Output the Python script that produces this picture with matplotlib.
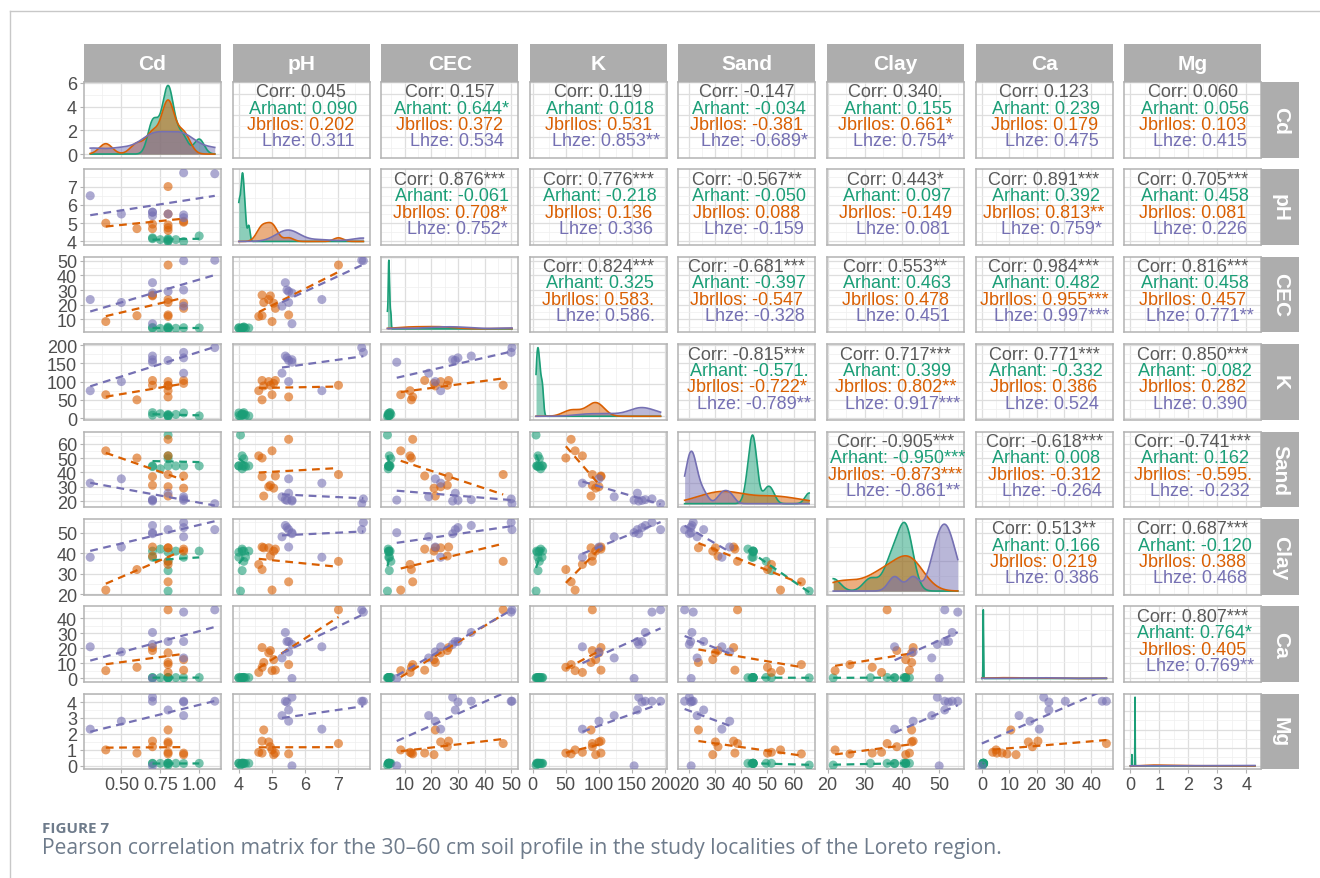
import numpy as np
import matplotlib
matplotlib.use('Agg')
import matplotlib.pyplot as plt
from matplotlib.lines import Line2D
from matplotlib.ticker import MaxNLocator

plt.rcParams['font.family'] = ['Liberation Sans', 'DejaVu Sans']

# ---------------- data ----------------
groups = ['Arhant', 'Jbrllos', 'Lhze']
colors = ['#1B9E77', '#D95F02', '#7570B3']
variables = ['Cd', 'pH', 'CEC', 'K', 'Sand', 'Clay', 'Ca', 'Mg']

Cd = [[0.7, 0.7, 0.75, 0.8, 0.8, 0.8, 0.8, 0.85, 0.9, 1.0],
      [0.4, 0.6, 0.7, 0.7, 0.8, 0.8, 0.8, 0.8, 0.8, 0.9, 0.9],
      [0.3, 0.5, 0.7, 0.7, 0.7, 0.8, 0.9, 0.9, 0.9, 1.1]]
pH = [[4.15, 4.2, 4.1, 4.05, 4.1, 4.15, 4.0, 4.1, 4.0, 4.3],
      [5.0, 4.7, 4.95, 4.7, 7.0, 5.5, 4.9, 4.75, 4.6, 5.1, 5.05],
      [6.5, 5.5, 5.4, 5.6, 5.6, 5.5, 7.75, 5.45, 5.3, 7.7]]
CEC = [[4.5, 4.0, 3.8, 3.5, 4.2, 4.8, 4.0, 3.9, 4.3, 4.1],
       [8.5, 12.5, 26, 26.5, 47, 13, 23.5, 21.5, 12, 17.5, 21],
       [23.5, 21.5, 35, 28, 7, 29, 50, 30, 19, 50.3]]
K = [[15, 8, 12, 5, 8, 10, 7, 10, 14, 6],
     [64, 50, 90, 103, 90, 58, 100, 88, 75, 103, 95],
     [75, 100, 170, 160, 153, 158, 180, 165, 123, 193]]
Sand = [[44.5, 44, 42.5, 66, 51.5, 49.5, 44.5, 44.5, 44.5, 44.5],
        [55, 50, 31, 37, 38.5, 63, 30, 23.5, 51.5, 37.5, 29],
        [32.5, 35.5, 21, 20, 20.7, 25.5, 21.5, 20.5, 23, 18.2]]
Clay = [[41, 38, 42, 21.5, 31.5, 36, 40.5, 41, 38, 41],
        [22, 32, 38.6, 43, 36, 26, 42.6, 42.6, 34.5, 42, 41],
        [38, 43, 53.5, 49.5, 50, 51.5, 55, 52.5, 48, 51.5]]
Ca = [[0.6, 0.5, 0.5, 0.4, 0.5, 0.7, 0.5, 0.6, 0.5, 0.6],
      [5.2, 7.4, 18.5, 20.5, 45.5, 9.2, 17, 10.6, 4, 5.5, 12.5],
      [21, 17.6, 30.5, 22.6, 0.0, 24.5, 44, 24.5, 13.6, 45.5]]
Mg = [[0.16, 0.15, 0.16, 0.05, 0.16, 0.16, 0.17, 0.16, 0.15, 0.16],
      [1.0, 0.8, 1.2, 1.55, 1.4, 0.75, 1.5, 2.25, 0.85, 0.8, 0.7],
      [2.3, 2.8, 4.05, 4.3, 0.0, 3.5, 4.05, 4.0, 3.15, 4.05]]

data = {'Cd': Cd, 'pH': pH, 'CEC': CEC, 'K': K, 'Sand': Sand,
        'Clay': Clay, 'Ca': Ca, 'Mg': Mg}

axis_ticks = {'Cd': [0.5, 0.75, 1.0], 'pH': [4, 5, 6, 7],
              'CEC': [10, 20, 30, 40, 50], 'K': [0, 50, 100, 150, 200],
              'Sand': [20, 30, 40, 50, 60], 'Clay': [20, 30, 40, 50],
              'Ca': [0, 10, 20, 30, 40], 'Mg': [0, 1, 2, 3, 4]}
tick_fmt = {'Cd': '{:.2f}'}

# correlation labels for upper panels, row-major order (row < col)
corr_all = ['0.045', '0.157', '0.119', '-0.147', '0.340.', '0.123', '0.060',
            '0.876***', '0.776***', '-0.567**', '0.443*', '0.891***', '0.705***',
            '0.824***', '-0.681***', '0.553**', '0.984***', '0.816***',
            '-0.815***', '0.717***', '0.771***', '0.850***',
            '-0.905***', '-0.618***', '-0.741***',
            '0.513**', '0.687***',
            '0.807***']
corr_arhant = ['0.090', '0.644*', '0.018', '-0.034', '0.155', '0.239', '0.056',
               '-0.061', '-0.218', '-0.050', '0.097', '0.392', '0.458',
               '0.325', '-0.397', '0.463', '0.482', '0.458',
               '-0.571.', '0.399', '-0.332', '-0.082',
               '-0.950***', '0.008', '0.162',
               '0.166', '-0.120',
               '0.764*']
corr_jbrllos = ['0.202', '0.372', '0.531', '-0.381', '0.661*', '0.179', '0.103',
                '0.708*', '0.136', '0.088', '-0.149', '0.813**', '0.081',
                '0.583.', '-0.547', '0.478', '0.955***', '0.457',
                '-0.722*', '0.802**', '0.386', '0.282',
                '-0.873***', '-0.312', '-0.595.',
                '0.219', '0.388',
                '0.405']
corr_lhze = ['0.311', '0.534', '0.853**', '-0.689*', '0.754*', '0.475', '0.415',
             '0.752*', '0.336', '-0.159', '0.081', '0.759*', '0.226',
             '0.586.', '-0.328', '0.451', '0.997***', '0.771**',
             '-0.789**', '0.917***', '0.524', '0.390',
             '-0.861**', '-0.264', '-0.232',
             '0.386', '0.468',
             '0.769**']

caption_title = 'FIGURE 7'
caption_text = ('Pearson correlation matrix for the 30\u201360 cm soil profile in the '
                'study localities of the Loreto region.')

# ---------------- helpers ----------------
W, H = 1320, 879
fig = plt.figure(figsize=(W / 100, H / 100), dpi=100)


def add_ax(x, y, w, h):
    return fig.add_axes([x / W, 1 - (y + h) / H, w / W, h / H])


def var_range(v):
    allv = np.concatenate([np.asarray(g, float) for g in data[v]])
    return allv.min(), allv.max()


def var_lims(v):
    lo, hi = var_range(v)
    r = hi - lo
    return lo - 0.05 * r, hi + 0.05 * r


def minors(majors, lims):
    step = majors[1] - majors[0]
    out = []
    m = majors[0] - step / 2
    while m < lims[1]:
        if lims[0] < m < lims[1]:
            out.append(m)
        m += step
    return out


def bw_nrd0(x):
    x = np.asarray(x, float)
    hi = np.std(x, ddof=1)
    q75, q25 = np.percentile(x, [75, 25])
    lo = min(hi, (q75 - q25) / 1.34)
    if lo <= 0:
        lo = hi if hi > 0 else 1.0
    return 0.9 * lo * len(x) ** (-0.2)


def kde(x, grid):
    x = np.asarray(x, float)
    bw = bw_nrd0(x)
    z = (grid[:, None] - x[None, :]) / bw
    return np.exp(-0.5 * z ** 2).sum(axis=1) / (len(x) * bw * np.sqrt(2 * np.pi))


BORDER = '#B3B3B3'
STRIP = '#ADADAD'
MAJ = '#DEDEDE'
MIN = '#EFEFEF'
TICKC = '#4D4D4D'
FS = 13

px0, pw, pxstep = 84, 137, 148.6
py0, ph, pystep = 83, 75.5, 87.4
n = len(variables)

pair_index = {}
k = 0
for i in range(n):
    for j in range(i + 1, n):
        pair_index[(i, j)] = k
        k += 1

namew = max(len(g) for g in groups)

for i, rv in enumerate(variables):
    for j, cv in enumerate(variables):
        ax = add_ax(px0 + j * pxstep, py0 + i * pystep, pw, ph)
        xl = var_lims(cv)
        ax.set_xlim(xl)
        xt = axis_ticks[cv]
        ax.set_xticks(xt)
        ax.set_xticks(minors(xt, xl), minor=True)

        if i == j:
            lo, hi = var_range(cv)
            grid = np.linspace(lo, hi, 512)
            dens = [kde(data[cv][g], grid) for g in range(3)]
            ymax = max(d.max() for d in dens)
            ax.set_ylim(-0.05 * ymax, 1.05 * ymax)
            for g in range(3):
                ax.fill_between(grid, 0, dens[g], color=colors[g], alpha=0.5,
                                lw=0, zorder=2)
                ax.plot(grid, dens[g], color=colors[g], lw=1.2, zorder=3)
            loc = MaxNLocator(nbins=4, steps=[1, 2, 2.5, 5, 10])
            yt = [t for t in loc.tick_values(0, ymax * 1.05)
                  if -0.05 * ymax <= t <= 1.05 * ymax]
            ax.set_yticks(yt)
            if len(yt) > 1:
                ax.set_yticks(minors(yt, ax.get_ylim()), minor=True)
            ylabels = ['{:g}'.format(t) for t in yt]
        else:
            yl = var_lims(rv)
            ax.set_ylim(yl)
            yt = axis_ticks[rv]
            ax.set_yticks(yt)
            ax.set_yticks(minors(yt, yl), minor=True)
            ylabels = [tick_fmt.get(rv, '{:g}').format(t) for t in yt]
            if i > j:
                for g in range(3):
                    x = np.asarray(data[cv][g], float)
                    y = np.asarray(data[rv][g], float)
                    ax.scatter(x, y, s=42, color=colors[g], alpha=0.6,
                               edgecolors='none', zorder=3)
                for g in range(3):
                    x = np.asarray(data[cv][g], float)
                    y = np.asarray(data[rv][g], float)
                    if np.ptp(x) > 0:
                        b, a = np.polyfit(x, y, 1)
                        xs = np.array([x.min(), x.max()])
                        ax.plot(xs, a + b * xs, color=colors[g], lw=1.6,
                                dashes=(3.5, 2.5), zorder=4)
            else:
                idx = pair_index[(i, j)]
                lines = [('Corr: ' + corr_all[idx], '#595959')]
                vals = [corr_arhant[idx], corr_jbrllos[idx], corr_lhze[idx]]
                for g in range(3):
                    lines.append((groups[g].rjust(namew) + ': ' + vals[g], colors[g]))
                ys = [0.87, 0.655, 0.435, 0.22]
                for (txt, c), yy in zip(lines, ys):
                    ax.text(0.5, yy, txt, transform=ax.transAxes, ha='center',
                            va='center', fontsize=FS, color=c, zorder=5)

        ax.set_facecolor('white')
        ax.grid(True, which='major', color=MAJ, lw=0.9, zorder=0)
        ax.grid(True, which='minor', color=MIN, lw=0.5, zorder=0)
        ax.set_axisbelow(True)
        for s in ax.spines.values():
            s.set_color(BORDER)
            s.set_linewidth(1.1)
        ax.tick_params(which='minor', length=0)
        ax.tick_params(which='major', length=3, width=0.8, color=BORDER,
                       labelsize=FS, labelcolor=TICKC, pad=2)
        if i == n - 1:
            ax.set_xticklabels([tick_fmt.get(cv, '{:g}').format(t) for t in xt])
        else:
            ax.tick_params(axis='x', which='major', length=0, labelbottom=False)
        if j == 0:
            ax.set_yticklabels(ylabels)
        else:
            ax.tick_params(axis='y', which='major', length=0, labelleft=False)

# strips
for j, v in enumerate(variables):
    sa = add_ax(px0 + j * pxstep, 45, pw, 38)
    sa.set_facecolor(STRIP)
    sa.set_xticks([]); sa.set_yticks([])
    for s in sa.spines.values():
        s.set_visible(False)
    sa.text(0.5, 0.5, v, transform=sa.transAxes, ha='center', va='center',
            color='white', fontsize=15, fontweight='bold')
for i, v in enumerate(variables):
    sa = add_ax(px0 + 7 * pxstep + pw, py0 + i * pystep, 38, ph)
    sa.set_facecolor(STRIP)
    sa.set_xticks([]); sa.set_yticks([])
    for s in sa.spines.values():
        s.set_visible(False)
    sa.text(0.5, 0.5, v, transform=sa.transAxes, ha='center', va='center',
            color='white', fontsize=15, fontweight='bold', rotation=-90)

# frame lines
fig.add_artist(Line2D([10 / W, 1], [1 - 12 / H, 1 - 12 / H], color='#C8C8C8', lw=1))
fig.add_artist(Line2D([10 / W, 10 / W], [0, 1 - 12 / H], color='#C8C8C8', lw=1))

# caption
fig.text(42 / W, 1 - 829 / H, caption_title, fontsize=11, fontweight='bold',
         color='#6E7B8B', family=['Open Sans', 'DejaVu Sans'], va='center')
fig.text(42 / W, 1 - 849 / H, caption_text, fontsize=15.2, color='#6E7B8B',
         family=['Open Sans', 'DejaVu Sans'], va='center')

fig.savefig('out.png', dpi=100)
